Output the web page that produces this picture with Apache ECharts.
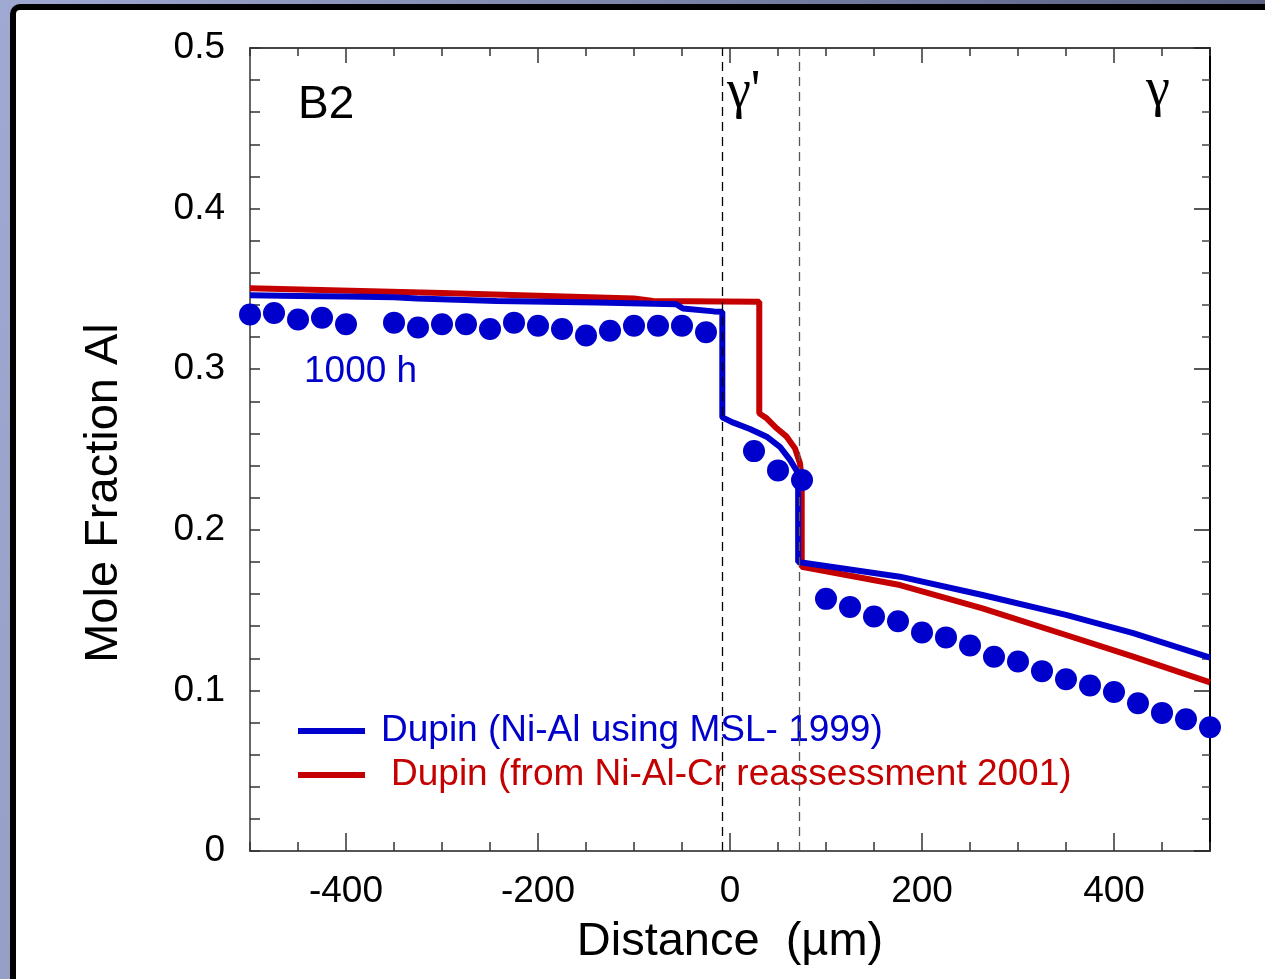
<!DOCTYPE html>
<html>
<head>
<meta charset="utf-8">
<script src="https://cdn.jsdelivr.net/npm/echarts@6/dist/echarts.min.js"></script>
<style>
  html, body { margin: 0; padding: 0; width: 1265px; height: 979px; overflow: hidden;
    background: linear-gradient(100deg, #a0a9d1 0%, #7c84aa 45%, #505777 100%); }
  #frame { position: absolute; left: 10px; top: 4px; width: 1300px; height: 1100px;
    border: 6px solid #000; border-radius: 10px; background: #fff; box-sizing: border-box; }
  #chart { position: absolute; left: 0; top: 0; width: 1265px; height: 979px; }
</style>
</head>
<body>
<div id="frame"></div>
<div id="chart"></div>
<script>
// ---- data ----
const dotX = [-500, -475, -450, -425, -400, -350, -325, -300, -275, -250, -225, -200, -175, -150, -125, -100, -75, -50, -25,
              25, 50, 75,
              100, 125, 150, 175, 200, 225, 250, 275, 300, 325, 350, 375, 400, 425, 450, 475, 500];
const dotY = [0.334, 0.335, 0.331, 0.332, 0.328, 0.329, 0.326, 0.328, 0.328, 0.325, 0.329, 0.327, 0.325, 0.321, 0.324, 0.327, 0.327, 0.327, 0.323,
              0.249, 0.237, 0.231,
              0.157, 0.152, 0.146, 0.143, 0.136, 0.133, 0.128, 0.121, 0.118, 0.112, 0.107, 0.103, 0.099, 0.092, 0.086, 0.082, 0.077];

const blueX = [-500, -450, -400, -350, -326, -243, -139, -56, -49, -17, -8, -8, 3.5, 20.8, 38.2, 52, 62.5, 71, 71, 177, 263, 350, 420, 500];
const blueY = [0.3460, 0.3456, 0.3452, 0.3448, 0.3440, 0.3425, 0.3415, 0.3405, 0.3378, 0.3360, 0.3358, 0.270, 0.2667, 0.2628, 0.2580, 0.2517, 0.2435, 0.2352, 0.180, 0.1708, 0.1594, 0.1470, 0.1357, 0.1204];

const redX = [-500, -300, -100, -80, 30.5, 30.5, 38.2, 48.6, 59, 67.7, 72.9, 74.7, 74.7, 177, 263, 350, 420, 500];
const redY = [0.3504, 0.3475, 0.3440, 0.3425, 0.3420, 0.2725, 0.2694, 0.2632, 0.2580, 0.2507, 0.2414, 0.2310, 0.177, 0.1656, 0.1511, 0.1345, 0.1210, 0.1050];

const phaseBounds = [-8, 72.5];
const majorXTicks = [-400, -200, 0, 200, 400];
const blueName = 'Dupin (Ni-Al using MSL- 1999)';
const redName = 'Dupin (from Ni-Al-Cr reassessment 2001)';

const BLUE = '#0000cc', RED = '#c40000';
const sans = '"Liberation Sans", Arial, sans-serif';
const serif = '"Liberation Serif", "Times New Roman", serif';

const pairs = (xs, ys) => xs.map((x, i) => [x, ys[i]]);

const chart = echarts.init(document.getElementById('chart'), null, { renderer: 'canvas' });

const xBase = { type: 'value', min: -500, max: 500, gridIndex: 0, splitLine: { show: false } };
const yBase = { type: 'value', min: 0, max: 0.5, interval: 0.1, splitLine: { show: false }, minorSplitLine: { show: false } };

chart.setOption({
  backgroundColor: 'transparent',
  animation: false,
  grid: { left: 250, top: 48, width: 960, height: 803, containLabel: false },
  xAxis: [
    Object.assign({}, xBase, {
      position: 'bottom', interval: 50,
      name: 'Distance  (\u00b5m)', nameLocation: 'middle', nameGap: 68,
      nameTextStyle: { fontSize: 47, fontFamily: sans, color: '#000' },
      axisLine: { onZero: false, lineStyle: { color: '#555', width: 2 } },
      axisTick: { inside: true, length: 9, lineStyle: { color: '#333', width: 1.5 } },
      axisLabel: { fontSize: 37, fontFamily: sans, color: '#000', margin: 22,
        formatter: v => (majorXTicks.indexOf(v) >= 0 ? String(v) : '') }
    }),
    Object.assign({}, xBase, {
      position: 'bottom',
      axisLine: { show: false, onZero: false },
      axisTick: { inside: true, length: 18, customValues: majorXTicks, lineStyle: { color: '#333', width: 1.5 } },
      axisLabel: { show: false }
    }),
    Object.assign({}, xBase, {
      position: 'top', interval: 50,
      axisLine: { onZero: false, lineStyle: { color: '#444', width: 2 } },
      axisTick: { inside: true, length: 8, lineStyle: { color: '#333', width: 1.5 } },
      axisLabel: { show: false }
    }),
    Object.assign({}, xBase, {
      position: 'top',
      axisLine: { show: false, onZero: false },
      axisTick: { inside: true, length: 15, customValues: majorXTicks, lineStyle: { color: '#333', width: 1.5 } },
      axisLabel: { show: false }
    })
  ],
  yAxis: [
    Object.assign({}, yBase, {
      position: 'left',
      axisLine: { onZero: false, lineStyle: { color: '#666', width: 2 } },
      axisTick: { inside: true, length: 10, lineStyle: { color: '#333', width: 1.5 } },
      minorTick: { show: true, splitNumber: 5, length: 10, lineStyle: { color: '#333', width: 1.5 } },
      axisLabel: { fontSize: 37, fontFamily: sans, color: '#000', margin: 25,
        formatter: v => (v === 0 ? '0' : v.toFixed(1)) }
    }),
    Object.assign({}, yBase, {
      position: 'right',
      axisLine: { onZero: false, lineStyle: { color: '#000', width: 2 } },
      axisTick: { inside: true, length: 16, lineStyle: { color: '#222', width: 1.5 } },
      minorTick: { show: true, splitNumber: 5, length: 8, lineStyle: { color: '#444', width: 1.5 } },
      axisLabel: { show: false }
    })
  ],
  legend: [
    { data: [blueName], orient: 'vertical', left: 298, top: 708, padding: 0, icon: 'rect', itemWidth: 67, itemHeight: 6,
      itemGap: 0, textStyle: { fontSize: 37, fontFamily: sans, color: BLUE, lineHeight: 40, padding: [6, 0, 0, 11] },
      selectedMode: false },
    { data: [redName], orient: 'vertical', left: 298, top: 752, padding: 0, icon: 'rect', itemWidth: 67, itemHeight: 6,
      itemGap: 0, textStyle: { fontSize: 37, fontFamily: sans, color: RED, lineHeight: 40, padding: [6, 0, 0, 21] },
      selectedMode: false }
  ],
  graphic: [
    { type: 'text', x: 104.5, y: 493, rotation: Math.PI / 2,
      style: { text: 'Mole Fraction Al', fontSize: 47, fontFamily: sans, fill: '#000', align: 'center', verticalAlign: 'middle' } },
    { type: 'text', left: 298, top: 82, style: { text: 'B2', fontSize: 46, fontFamily: sans, fill: '#000' } },
    { type: 'text', left: 304, top: 353, style: { text: '1000 h', fontSize: 37, fontFamily: sans, fill: BLUE } },
    { type: 'text', left: 727, top: 66, style: { text: '\u03b3\'', fontSize: 54, fontFamily: serif, fill: '#000' } },
    { type: 'text', left: 1146, top: 64, style: { text: '\u03b3', fontSize: 54, fontFamily: serif, fill: '#000' } }
  ],
  series: [
    {
      name: blueName, type: 'line', xAxisIndex: 0, yAxisIndex: 0,
      data: pairs(blueX, blueY), showSymbol: false, symbol: 'none',
      lineStyle: { color: BLUE, width: 6 }, itemStyle: { color: BLUE }, z: 3,
      markLine: {
        silent: true, symbol: 'none', label: { show: false },
        data: [
          { xAxis: phaseBounds[0], lineStyle: { color: '#000', type: [9, 6], width: 1.3 } },
          { xAxis: phaseBounds[1], lineStyle: { color: '#555', type: [9, 6], width: 1.3 } }
        ]
      }
    },
    {
      name: redName, type: 'line', xAxisIndex: 0, yAxisIndex: 0,
      data: pairs(redX, redY), showSymbol: false, symbol: 'none',
      lineStyle: { color: RED, width: 6 }, itemStyle: { color: RED }, z: 2
    },
    {
      name: 'Data 1000 h', type: 'scatter', xAxisIndex: 0, yAxisIndex: 0,
      data: pairs(dotX, dotY), symbol: 'circle', symbolSize: 22,
      itemStyle: { color: BLUE, opacity: 1 }, z: 5
    }
  ]
});
</script>
</body>
</html>
